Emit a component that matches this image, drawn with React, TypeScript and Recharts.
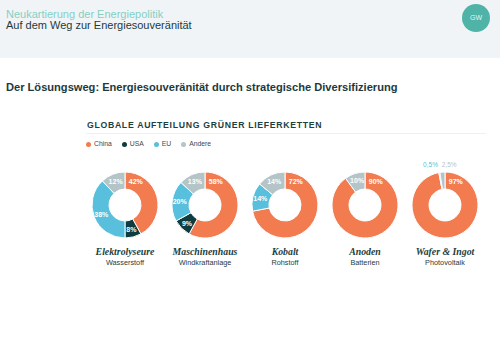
import { PieChart, Pie, Cell } from "recharts"

const categories = ["Elektrolyseure", "Maschinenhaus", "Kobalt", "Anoden", "Wafer & Ingot"]
const subtitles = ["Wasserstoff", "Windkraftanlage", "Rohstoff", "Batterien", "Photovoltaik"]

const seriesNames = ["China", "USA", "EU", "Andere"]
const seriesColors = ["#f27b4f", "#0f3c3f", "#58bfdc", "#b4c4c7"]

const china = [42, 58, 72, 90, 97]
const usa = [8, 9, 0, 0, 0]
const eu = [38, 20, 14, 0, 0.5]
const andere = [12, 13, 14, 10, 2.5]

const allSeries = [china, usa, eu, andere]

const RAD = Math.PI / 180
const fmt = (v: number) => String(v).replace(".", ",") + "%"

function buildData(i: number) {
  return seriesNames
    .map((name, s) => ({ name, value: allSeries[s][i], color: seriesColors[s] }))
    .filter((d) => d.value > 0)
}

function Donut({ index }: { index: number }) {
  const data = buildData(index)

  const renderLabel = (p: any) => {
    const { cx, cy, midAngle, startAngle, innerRadius, outerRadius, value, index: k } = p
    if (value < 5) {
      const next = data[k + 1]
      const r = outerRadius + 8
      const x = cx + r * Math.cos(-midAngle * RAD)
      const y = cy + r * Math.sin(-midAngle * RAD)
      return (
        <text
          x={x}
          y={y}
          fill={data[k].color}
          fontSize={6.5}
          textAnchor={next && next.value < 5 ? "end" : "start"}
          dominantBaseline="central"
        >
          {fmt(value)}
        </text>
      )
    }
    const angle = value > 40 ? startAngle - 25 : midAngle
    const r = (innerRadius + outerRadius) / 2 + 1
    const x = cx + r * Math.cos(-angle * RAD)
    const y = cy + r * Math.sin(-angle * RAD)
    return (
      <text
        x={x}
        y={y}
        fill="#fff"
        fontSize={7}
        fontWeight="bold"
        textAnchor="middle"
        dominantBaseline="central"
      >
        {fmt(value)}
      </text>
    )
  }

  return (
    <div style={{ width: 80, textAlign: "center" }}>
      <PieChart width={80} height={90}>
        <Pie
          data={data}
          dataKey="value"
          cx="50%"
          cy="50%"
          innerRadius={16}
          outerRadius={33}
          startAngle={90}
          endAngle={-270}
          stroke="#fff"
          strokeWidth={1}
          label={renderLabel}
          labelLine={false}
          isAnimationActive={false}
        >
          {data.map((d) => (
            <Cell key={d.name} fill={d.color} />
          ))}
        </Pie>
      </PieChart>
      <div
        style={{
          marginTop: -4,
          lineHeight: "12px",
          fontFamily: "'Liberation Serif', serif",
          fontStyle: "italic",
          fontWeight: "bold",
          fontSize: 9.8,
          color: "#1d3d40",
          whiteSpace: "nowrap",
        }}
      >
        {categories[index]}
      </div>
      <div style={{ lineHeight: "10px", fontSize: 7.3, color: "#2a3a3c", whiteSpace: "nowrap" }}>
        {subtitles[index]}
      </div>
    </div>
  )
}

export default function App() {
  return (
    <div
      style={{
        position: "absolute",
        left: 0,
        top: 0,
        width: 500,
        height: 353,
        background: "#fff",
        fontFamily: "'Liberation Sans', Arial, sans-serif",
        overflow: "hidden",
      }}
    >
      <div style={{ position: "absolute", left: 0, top: 0, width: 500, height: 58, background: "#f0f4f7" }} />
      <div style={{ position: "absolute", left: 6, top: 8, fontSize: 11, lineHeight: "12px", color: "#86cfc4" }}>
        Neukartierung der Energiepolitik
      </div>
      <div style={{ position: "absolute", left: 6, top: 19, fontSize: 11, lineHeight: "12px", color: "#1f3a3d" }}>
        Auf dem Weg zur Energiesouveränität
      </div>
      <div
        style={{
          position: "absolute",
          left: 462,
          top: 4,
          width: 28,
          height: 28,
          borderRadius: 14,
          background: "#4fb3a8",
          color: "#e6f5f3",
          fontSize: 7,
          lineHeight: "28px",
          textAlign: "center",
        }}
      >
        GW
      </div>

      <div
        style={{
          position: "absolute",
          left: 6,
          top: 80,
          fontSize: 11.1,
          lineHeight: "14px",
          fontWeight: "bold",
          color: "#1c3a3d",
          whiteSpace: "nowrap",
        }}
      >
        Der Lösungsweg: Energiesouveränität durch strategische Diversifizierung
      </div>

      <div
        style={{
          position: "absolute",
          left: 87,
          top: 120,
          fontSize: 8.7,
          lineHeight: "10px",
          fontWeight: "bold",
          letterSpacing: 0.7,
          color: "#1c3f42",
          whiteSpace: "nowrap",
        }}
      >
        GLOBALE AUFTEILUNG GRÜNER LIEFERKETTEN
      </div>
      <div style={{ position: "absolute", left: 86, top: 133, width: 400, height: 1, background: "#eef1f2" }} />

      <div
        style={{
          position: "absolute",
          left: 86,
          top: 140,
          display: "flex",
          gap: 10,
          fontSize: 6.8,
          lineHeight: "8px",
          color: "#3a4a4c",
        }}
      >
        {seriesNames.map((n, i) => (
          <div key={n} style={{ display: "flex", alignItems: "center" }}>
            <span
              style={{
                display: "inline-block",
                width: 5,
                height: 5,
                borderRadius: 3,
                background: seriesColors[i],
                marginRight: 3,
              }}
            />
            {n}
          </div>
        ))}
      </div>

      <div style={{ position: "absolute", left: 85, top: 160, display: "flex" }}>
        {categories.map((c, i) => (
          <Donut key={c} index={i} />
        ))}
      </div>
    </div>
  )
}
